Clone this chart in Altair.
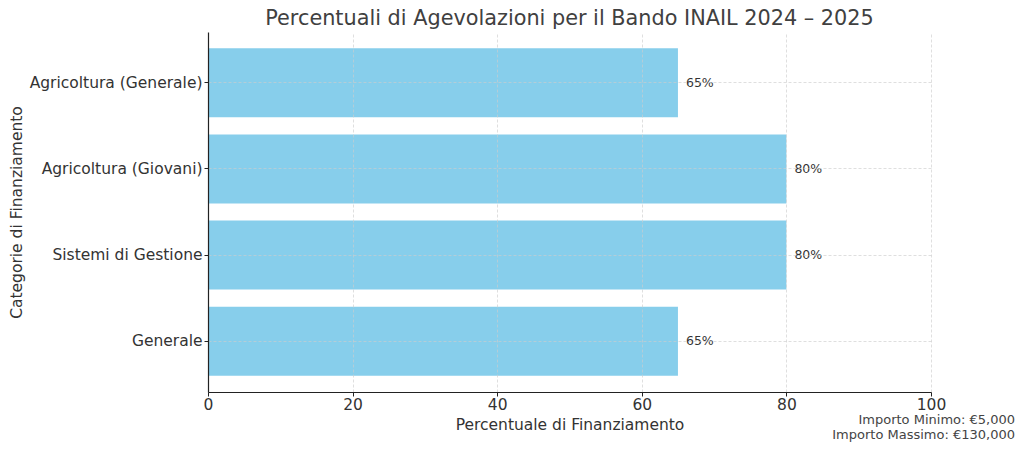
import altair as alt
import pandas as pd

categories = ["Agricoltura (Generale)", "Agricoltura (Giovani)", "Sistemi di Gestione", "Generale"]
percentages = [65, 80, 80, 65]
labels = ["65%", "80%", "80%", "65%"]
x_ticks = [0, 20, 40, 60, 80, 100]
note_text = "Importo Minimo: €5,000\nImporto Massimo: €130,000"
title_text = "Percentuali di Agevolazioni per il Bando INAIL 2024 – 2025"

df = pd.DataFrame({"cat": categories, "pct": percentages, "lab": labels})

FONT = "DejaVu Sans"

y_enc = alt.Y(
    "cat:N",
    sort=categories,
    scale=alt.Scale(paddingInner=0.2, paddingOuter=0.19),
    axis=alt.Axis(
        title="Categorie di Finanziamento",
        titleX=-192, titleY=180, titleAngle=270,
        titleAlign="center", titleBaseline="middle",
        labelPadding=2, tickSize=4,
        grid=True, zindex=1,
    ),
)

x_scale = alt.Scale(domain=[0, 100], nice=False)

bars = alt.Chart(df).mark_bar(color="#87CEEB").encode(
    x=alt.X(
        "pct:Q",
        scale=x_scale,
        axis=alt.Axis(
            title="Percentuale di Finanziamento",
            values=x_ticks,
            titleY=37, titleBaseline="alphabetic",
            tickSize=4, labelPadding=1, labelFlush=False,
            grid=True, zindex=1,
        ),
    ),
    y=y_enc,
)

texts = alt.Chart(df).mark_text(
    align="left", baseline="middle", dx=8, fontSize=12.5, font=FONT, color="#333333"
).encode(
    x=alt.X("pct:Q", scale=x_scale),
    y=alt.Y("cat:N", sort=categories),
    text="lab:N",
)

note = alt.Chart(pd.DataFrame({"t": [note_text]})).mark_text(
    align="right", baseline="alphabetic", fontSize=13, font=FONT, color="#444444",
    lineBreak="\n", lineHeight=15,
).encode(
    x=alt.value(807), y=alt.value(392), text="t:N"
)

title = alt.Chart(pd.DataFrame({"t": [title_text]})).mark_text(
    align="center", baseline="alphabetic", fontSize=20.8, font=FONT, color="#404040",
).encode(
    x=alt.value(361.5), y=alt.value(-7), text="t:N"
)

chart = alt.layer(bars, texts, note, title).properties(
    width=723,
    height=360,
    autosize=alt.AutoSizeParams(type="none"),
    padding={"left": 200, "top": 24, "right": 85, "bottom": 51},
).configure_view(stroke=None).configure_axis(
    labelFont=FONT, titleFont=FONT, labelFontSize=15.5, titleFontSize=15.5,
    labelColor="#333333", titleColor="#333333", titleFontWeight="normal",
    domainColor="#222222", tickColor="#222222", domainWidth=1.2,
    gridColor="#cccccc", gridDash=[3, 2], gridWidth=0.8, gridOpacity=0.8,
)

chart.save("out.html", embed_options={"renderer": "svg", "actions": False})
